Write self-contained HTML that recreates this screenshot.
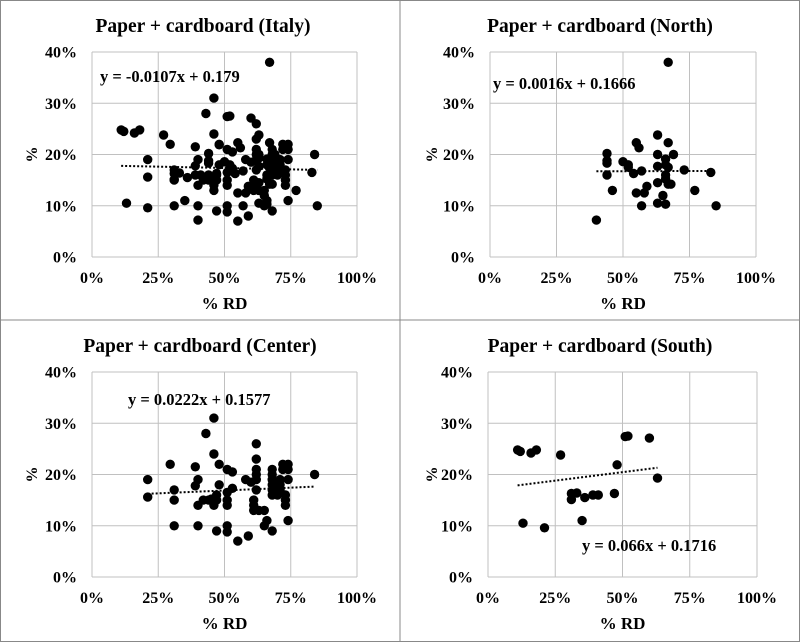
<!DOCTYPE html>
<html><head><meta charset="utf-8"><style>
html,body{margin:0;padding:0;background:#fff}
svg{display:block}
text{font-family:"Liberation Serif",serif;font-weight:bold;fill:#000}
</style></head><body>
<svg id="s" width="800" height="642" viewBox="0 0 800 642" xmlns="http://www.w3.org/2000/svg">
<rect x="0.5" y="0.5" width="799" height="641" fill="#fff" stroke="#888"/>
<line x1="400" y1="0" x2="400" y2="642" stroke="#888"/>
<line x1="0" y1="320" x2="800" y2="320" stroke="#888"/>
</svg>
<script>
var N=[[40,7.2],[44,20.2],[44,18.8],[44,18.3],[44,16],[46,13],[50,18.6],[52,17.5],[52,18],[54,16.3],[55,22.3],[55,12.5],[56,21.3],[57,16.8],[57,10],[58,12.5],[59,13.8],[63,23.8],[63,20],[63,17.7],[63,14.5],[63,10.5],[65,12],[66,19.1],[66,18],[66,16],[66,15.2],[66,10.3],[67,22.3],[67,17.5],[67,14.2],[67,38],[68,14.2],[69,20],[73,17],[77,13],[83,16.5],[85,10]];
var C=[[21,19],[21,15.6],[29.5,22],[31,17],[31,15],[31,10],[39,21.5],[39,17.8],[40,19],[40,14],[40,10],[42,15],[43,28],[44,15],[45,15.2],[46,31],[46,24],[46,14],[47,16],[47,15],[47,9],[48,22],[48,18],[51,21],[51,16.5],[51,15],[51,14],[51,10],[51,8.8],[53,20.5],[53,17.3],[55,7],[58,19],[59,8],[60,18.5],[61,15],[61,14],[61,13],[62,26],[62,23],[62,21],[62,20],[62,19],[62,17],[63,13],[65,13],[65,10],[66,11],[68,21],[68,20],[68,19],[68,18],[68,17],[68,16],[68,9],[69,18],[70,17],[70,16],[71,19],[71,18],[71,17],[72,22],[72,21],[73,16],[73,15],[73,14],[74,22],[74,21],[74,19],[74,11],[84,20]];
var S=[[11,24.8],[12,24.5],[16,24.2],[18,24.8],[13,10.5],[21,9.6],[27,23.8],[31,16.3],[31,15.1],[33,16.4],[35,11],[36,15.5],[39,16],[41,16],[47,16.3],[48,21.9],[51,27.4],[52,27.5],[60,27.1],[63,19.3]];
var I=N.concat(C,S);
var panels=[
{ox:0,x0:92,x1:357,y0:257,y1:52,title:"Paper + cardboard (Italy)",tx:203,ty:32,d:I,eq:"y = -0.0107x + 0.179",ex:100,ey:82,a:-0.0107,b:0.179,l0:.11,l1:.85},
{ox:400,x0:490,x1:756,y0:257,y1:52,title:"Paper + cardboard  (North)",tx:600,ty:32,d:N,eq:"y = 0.0016x + 0.1666",ex:493,ey:89,a:0.0016,b:0.1666,l0:.40,l1:.85},
{ox:0,x0:92,x1:357,y0:577,y1:372,title:"Paper + cardboard (Center)",tx:200,ty:352,d:C,eq:"y = 0.0222x + 0.1577",ex:128,ey:405,a:0.0222,b:0.1577,l0:.21,l1:.84},
{ox:400,x0:488,x1:757,y0:577,y1:372,title:"Paper + cardboard (South)",tx:600,ty:352,d:S,eq:"y = 0.066x + 0.1716",ex:582,ey:551,a:0.066,b:0.1716,l0:.11,l1:.63}];
var h="";
panels.forEach(function(p){
 var X=function(v){return p.x0+(p.x1-p.x0)*v/100},Y=function(v){return p.y0+(p.y1-p.y0)*v/40};
 for(var i=0;i<=4;i++){h+='<line x1="'+X(i*25)+'" y1="'+p.y0+'" x2="'+X(i*25)+'" y2="'+p.y1+'" stroke="#c0c0c0"/>';
  h+='<text x="'+X(i*25)+'" y="'+(p.y0+26)+'" font-size="16" text-anchor="middle">'+(i*25)+'%</text>';}
 for(var j=0;j<=4;j++){h+='<line x1="'+p.x0+'" y1="'+Y(j*10)+'" x2="'+p.x1+'" y2="'+Y(j*10)+'" stroke="#c0c0c0"/>';
  h+='<text x="'+(p.x0-15)+'" y="'+(Y(j*10)+5.5)+'" font-size="16" text-anchor="end">'+(j*10)+'%</text>';}
 h+='<text x="'+p.tx+'" y="'+p.ty+'" font-size="19.5" text-anchor="middle">'+p.title+'</text>';
 h+='<text x="'+((p.x0+p.x1)/2)+'" y="'+(p.y0+52)+'" font-size="17" text-anchor="middle">% RD</text>';
 var cy=(p.y0+p.y1)/2;
 h+='<text x="'+(p.ox+37)+'" y="'+cy+'" font-size="16" text-anchor="middle" transform="rotate(-90 '+(p.ox+37)+' '+cy+')">%</text>';
 p.d.forEach(function(q){h+='<circle cx="'+X(q[0]).toFixed(1)+'" cy="'+Y(q[1]).toFixed(1)+'" r="4.7" fill="#000"/>';});
 h+='<line x1="'+X(p.l0*100)+'" y1="'+Y((p.a*p.l0+p.b)*100)+'" x2="'+X(p.l1*100)+'" y2="'+Y((p.a*p.l1+p.b)*100)+'" stroke="#000" stroke-width="2" stroke-dasharray="2,2"/>';
 h+='<text x="'+p.ex+'" y="'+p.ey+'" font-size="16.5">'+p.eq+'</text>';
});
document.getElementById("s").insertAdjacentHTML("beforeend",h);
</script>
</body></html>
